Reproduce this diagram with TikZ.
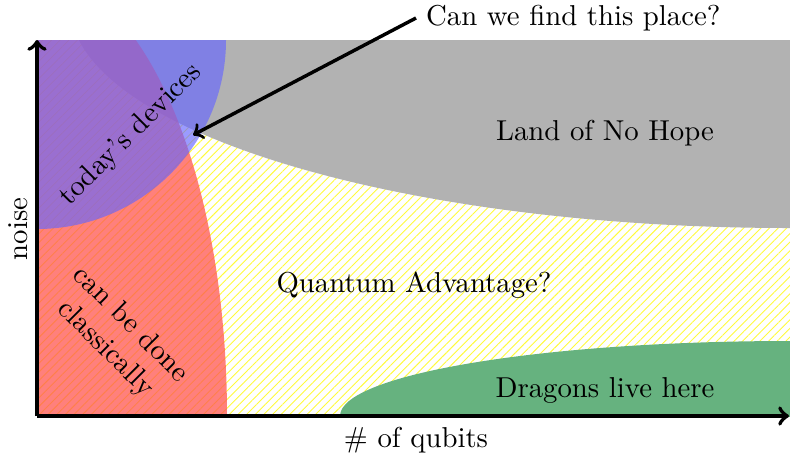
\documentclass[tikz,border=0pt]{standalone}
\usetikzlibrary{patterns.meta}
\definecolor{greenfill}{RGB}{102,178,127}
\definecolor{hatchyellow}{RGB}{255,250,60}
\definecolor{redfill}{RGB}{255,86,80}
\begin{document}
\begin{tikzpicture}[x=0.3475pt,y=-0.3475pt,
  axisline/.style={line width=1.4pt,->},
  pointer/.style={line width=1.2pt,->}]
\useasboundingbox (0,0) rectangle (790,454);
\coordinate (O) at (37,416);
\coordinate (X) at (789,416);
\coordinate (Y) at (37,40);
\coordinate (tip) at (193,135);
\begin{scope}
  \clip (37,40) rectangle (790,416);
  \fill[pattern={Lines[angle=45,distance=2.12pt,line width=0.32pt]}, pattern color=hatchyellow] (37,40) rectangle (790,416);
  \fill[gray!60] (790,5) ellipse [x radius=720, y radius=223];
  \fill[redfill, opacity=0.75] (37,416) ellipse [x radius=190, y radius=440];
  \fill[blue!60, opacity=0.65] (37,40) circle [radius=189];
  \fill[greenfill] (790,416) ellipse [x radius=450, y radius=75];
\end{scope}
\draw[axisline] (O) -- (X);
\draw[axisline] (O) -- (Y);
\node (land) at (605,133) {Land of No Hope};
\node (qa) at (414,285) {Quantum Advantage?};
\node (dragons) at (605,390) {Dragons live here};
\node[rotate=45] (today) at (131,135) {today's devices};
\node[rotate=-45, align=center] (classic) at (118,337) {can be done\\classically};
\node[rotate=90] (noise) at (18,229) {noise};
\node (qubits) at (416,440) {\# of qubits};
\node[anchor=west] (q) at (416,18) {Can we find this place?};
\draw[pointer] (q.west) -- (tip);
\end{tikzpicture}
\end{document}
